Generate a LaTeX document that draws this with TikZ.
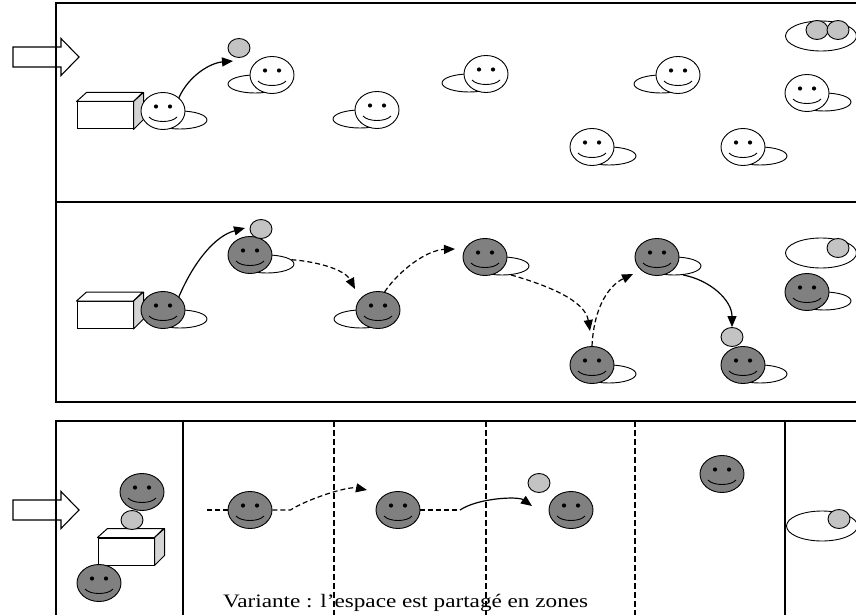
\documentclass[tikz,border=0pt]{standalone}
\usepackage{fontspec}
\setmainfont{Liberation Serif}
\newfontfamily\notefont[FakeStretch=1.22]{Liberation Serif}
\usetikzlibrary{arrows.meta,shapes.geometric}
\definecolor{facegray}{RGB}{128,128,128}
\definecolor{ballgray}{RGB}{195,195,195}
\definecolor{sidegray}{RGB}{212,212,212}
\begin{document}
\begin{tikzpicture}[x=1pt,y=-1pt,
  frame/.style={line width=1.8pt},
  zone/.style={line width=1.5pt, dash pattern=on 6pt off 3pt},
  face/.style={ellipse, draw, line width=0.9pt, fill=white,
    minimum width=44pt, minimum height=37pt, inner sep=0pt,
    path picture={
      \fill[black] ([shift={(-7,-4.5)}]path picture bounding box.center) circle (2.1);
      \fill[black] ([shift={(7,-4.5)}]path picture bounding box.center) circle (2.1);
      \draw[black, line width=0.9pt] ([shift={(-14,6)}]path picture bounding box.center)
        .. controls +(5,6) and +(-5,6) .. ([shift={(14,6)}]path picture bounding box.center);
    }},
  dim/.style={face, fill=facegray},
  shadow/.style={ellipse, draw, line width=0.9pt, fill=white,
    minimum width=54pt, minimum height=18pt, inner sep=0pt},
  mat/.style={ellipse, draw, line width=0.9pt, fill=white,
    minimum width=71pt, minimum height=30pt, inner sep=0pt},
  ball/.style={ellipse, draw, line width=0.9pt, fill=ballgray,
    minimum width=22pt, minimum height=19pt, inner sep=0pt},
  crate/.style={draw, line width=1pt, fill=white,
    minimum width=56pt, minimum height=27pt, inner sep=0pt},
  cratetop/.style={draw, line width=1pt, fill=white, line join=round},
  crateside/.style={draw, line width=1pt, fill=sidegray, line join=round},
  move/.style={line width=1.2pt, -{Triangle[length=11pt,width=9pt]}},
  hop/.style={move, dash pattern=on 5pt off 3pt},
  trail/.style={line width=1.2pt, dash pattern=on 5pt off 3pt},
  inlet/.pic={
    \path[draw, line width=1.1pt, fill=white, line join=miter]
      (-33,-10) -- (15,-10) -- (15,-18.5) -- (33,0) -- (15,18.5) -- (15,10) -- (-33,10) -- cycle;
  }
]
\useasboundingbox (0,0) rectangle (856,615);
\clip (0,0) rectangle (856,615);

% entry arrows on the left
\pic at (46,57) {inlet};
\pic at (46,510) {inlet};

% caption of the zoned variant
\node[font=\notefont\fontsize{19}{21}\selectfont, anchor=base west, inner sep=0pt]
  (note) at (223,607) {Variante : l’espace est partagé en zones};

% panel frames
\draw[frame] (870,3) -- (56,3) -- (56,402) -- (870,402);
\draw[frame] (56,202) -- (870,202);
\draw[frame] (870,421) -- (56,421) -- (56,630);
\draw[frame] (183,421) -- (183,630);
\draw[frame] (785,421) -- (785,630);
\draw[zone] (334,421) -- (334,630);
\draw[zone] (486,421) -- (486,630);
\draw[zone] (635,421) -- (635,630);

% ---------------- first panel ----------------
\node[crate] (c1) at (105,115.5) {};
\draw[cratetop] (c1.north west) -- ++(10,-9) -- ++(56,0) -- (c1.north east) -- cycle;
\draw[crateside] (c1.north east) -- ++(10,-9) -- ++(0,27) -- (c1.south east) -- cycle;

\node[shadow] (t1s) at (180,120) {};
\node[face] (t1) at (163,111) {};
\node[shadow] (t2s) at (255,84) {};
\node[face] (t2) at (272,75) {};
\node[shadow] (t3s) at (360,119) {};
\node[face] (t3) at (377,110) {};
\node[shadow] (t4s) at (469,83) {};
\node[face] (t4) at (486,74) {};
\node[shadow] (t5s) at (661,84) {};
\node[face] (t5) at (678,75) {};
\node[shadow] (t6s) at (609,156) {};
\node[face] (t6) at (592,147) {};
\node[shadow] (t7s) at (760,156) {};
\node[face] (t7) at (743,147) {};
\node[shadow] (t8s) at (824,102) {};
\node[face] (t8) at (807,93) {};

\node[ball] (tb) at (239,48) {};
\node[mat] (tmat) at (821,36) {};
\node[ball] (tb2) at (817,30) {};
\node[ball] (tb3) at (838,30) {};

\coordinate (k1) at (233,61);
\draw[move] (t1.40) .. controls +(10,-22) and +(-23,2) .. (k1);

% ---------------- second panel ----------------
\node[crate] (c2) at (105,315) {};
\draw[cratetop] (c2.north west) -- ++(10,-9) -- ++(56,0) -- (c2.north east) -- cycle;
\draw[crateside] (c2.north east) -- ++(10,-9) -- ++(0,27) -- (c2.south east) -- cycle;

\node[shadow] (m1s) at (180,319) {};
\node[dim] (m1) at (163,310) {};
\node[shadow] (m2s) at (267,264) {};
\node[dim] (m2) at (250,255) {};
\node[shadow] (m3s) at (361,319) {};
\node[dim] (m3) at (378,310) {};
\node[shadow] (m4s) at (502,266) {};
\node[dim] (m4) at (485,257) {};
\node[shadow] (m5s) at (609,374) {};
\node[dim] (m5) at (592,365) {};
\node[shadow] (m6s) at (674,266) {};
\node[dim] (m6) at (657,257) {};
\node[shadow] (m7s) at (760,374) {};
\node[dim] (m7) at (743,365) {};
\node[shadow] (m8s) at (824,301) {};
\node[dim] (m8) at (807,292) {};

\node[ball] (mb1) at (261,229) {};
\node[ball] (mb2) at (732,337) {};
\node[mat] (mmat) at (821,253) {};
\node[ball] (mb3) at (838,248) {};

\coordinate (k2) at (245,228);
\coordinate (k3) at (355,289);
\coordinate (k4) at (455,249);
\coordinate (k5) at (590,331);
\coordinate (k6) at (633,274);
\draw[move] (m1.40) .. controls +(15,-35) and +(-30,8) .. (k2);
\draw[hop] (m2s.10) .. controls +(27,2) and +(-10,-19) .. (k3);
\draw[hop] (m3.70) .. controls +(15,-22) and +(-28,1) .. (k4);
\draw[hop] (m4s.-45) .. controls +(35,10) and +(-5,-31) .. (k5);
\draw[hop] (m5.north) .. controls +(2,-41) and +(-23,11) .. (k6);
\draw[move] (m6s.-45) .. controls +(27,5) and +(0,-27) .. (mb2.north);

% ---------------- zoned variant ----------------
\node[crate] (c3) at (126,551.5) {};
\draw[cratetop] (c3.north west) -- ++(10,-9) -- ++(56,0) -- (c3.north east) -- cycle;
\draw[crateside] (c3.north east) -- ++(10,-9) -- ++(0,27) -- (c3.south east) -- cycle;

\node[dim] (b0) at (142,492) {};
\node[ball] (bb0) at (132,520) {};
\node[dim] (b5) at (99,583) {};

\node[dim] (b1) at (250,510) {};
\node[dim] (b2) at (398,510) {};
\node[dim] (b3) at (571,510) {};
\node[dim] (b4) at (722,474) {};
\node[ball] (bb1) at (539,483) {};
\node[mat] (bmat) at (822,526) {};
\node[ball] (bb2) at (839,519) {};

\coordinate (j0) at (207,510);
\coordinate (k7) at (367,490);
\coordinate (j2) at (460,510);
\coordinate (k8) at (532,506);
\draw[trail] (j0) -- (b1.west);
\draw[hop] (b1.east) -- ++(18,0) .. controls +(15,-10) and +(-20,-4) .. (k7);
\draw[trail] (b2.east) -- (j2);
\draw[move] (j2) .. controls +(18,-12) and +(-14,-10) .. (k8);
\end{tikzpicture}
\end{document}
